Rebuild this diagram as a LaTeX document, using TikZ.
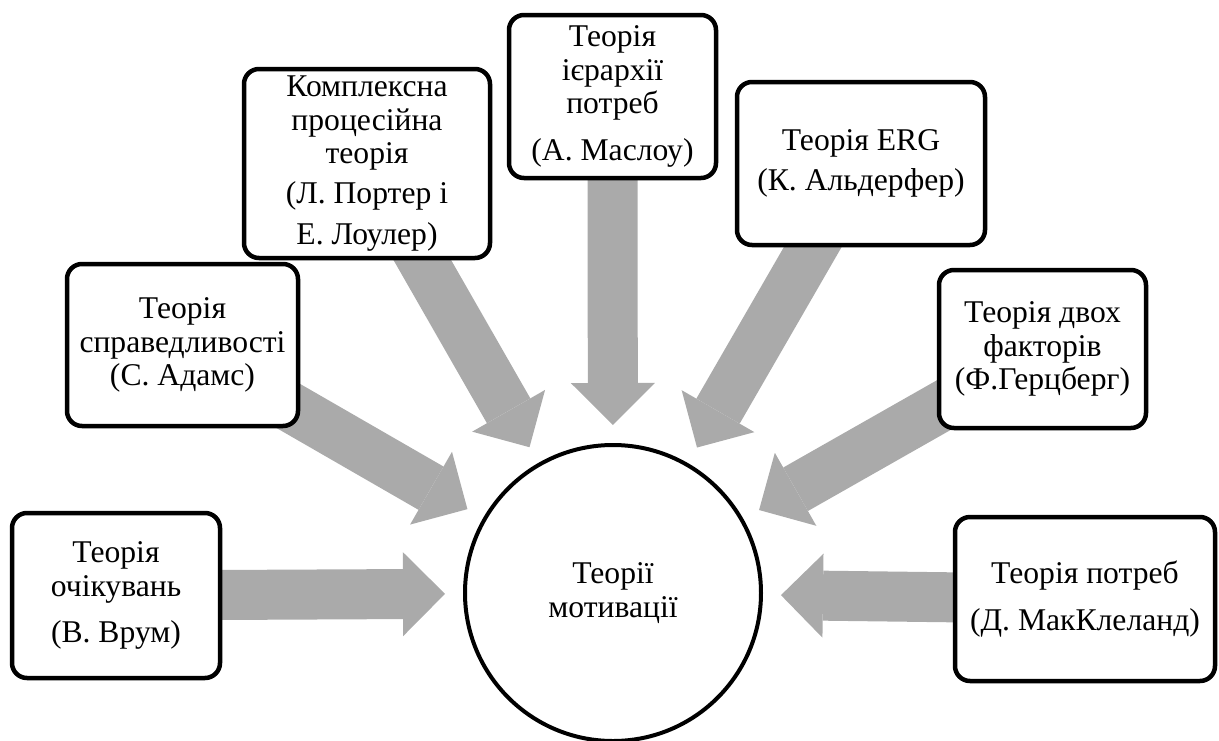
\documentclass[tikz,border=0pt]{standalone}
\usepackage{fontspec}
\setmainfont{Liberation Serif}
\usetikzlibrary{arrows.meta,backgrounds}
\definecolor{arrowgray}{HTML}{AAAAAA}

\begin{document}
\begin{tikzpicture}[
    theory/.style={
        rectangle,
        rounded corners=0.3cm,
        draw=black,
        fill=white,
        line width=0.09cm,
        align=center,
        inner sep=0pt,
        outer sep=0pt,
        font=\fontsize{18}{19}\selectfont
    },
    motivation/.style={
        circle,
        draw=black,
        fill=white,
        line width=0.08cm,
        minimum size=5.92cm,
        align=center,
        outer sep=0pt,
        font=\fontsize{18}{19}\selectfont
    },
    influence/.style={
        arrowgray,
        line width=1cm,
        -{Triangle[width=1.68cm,length=0.84cm,line width=0pt]},
        shorten >=0.4cm
    }
]
\useasboundingbox (0,0) rectangle (24.38,-14.80);

% Nodes
\node[motivation] (motiv) at (12.26,-11.86) {Теорії\\мотивації};
\node[theory, minimum width=4.16cm, minimum height=3.30cm] (vroom) at (2.32,-11.91) {Теорія\\очікувань\\[0.26cm](В. Врум)};
\node[theory, minimum width=4.62cm, minimum height=3.24cm] (adams) at (3.65,-6.90) {Теорія\\справедливості\\(С. Адамс)};
\node[theory, minimum width=4.92cm, minimum height=3.78cm] (porter) at (7.34,-3.27) {Комплексна\\процесійна\\теорія\\[0.14cm](Л. Портер і\\[0.14cm]Е. Лоулер)};
\node[theory, minimum width=4.14cm, minimum height=3.26cm] (maslow) at (12.25,-1.93) {Теорія\\ієрархії\\потреб\\[0.26cm](А. Маслоу)};
\node[theory, minimum width=4.96cm, minimum height=3.26cm] (alderfer) at (17.22,-3.27) {Теорія ERG\\[0.14cm](К. Альдерфер)};
\node[theory, minimum width=4.14cm, minimum height=3.16cm] (herzberg) at (20.85,-6.98) {Теорія двох\\факторів\\(Ф.Герцберг)};
\node[theory, minimum width=5.20cm, minimum height=3.28cm] (mcclelland) at (21.70,-11.98) {Теорія потреб\\[0.26cm](Д. МакКлеланд)};

% Arrows into the circle
\begin{pgfonlayer}{background}
    \draw[influence] (vroom.center) -- (motiv);
    \draw[influence] (adams.center) -- (motiv);
    \draw[influence] (porter.center) -- (motiv);
    \draw[influence] (maslow.center) -- (motiv);
    \draw[influence] (alderfer.center) -- (motiv);
    \draw[influence] (herzberg.center) -- (motiv);
    \draw[influence] (mcclelland.center) -- (motiv);
\end{pgfonlayer}

\end{tikzpicture}
\end{document}
